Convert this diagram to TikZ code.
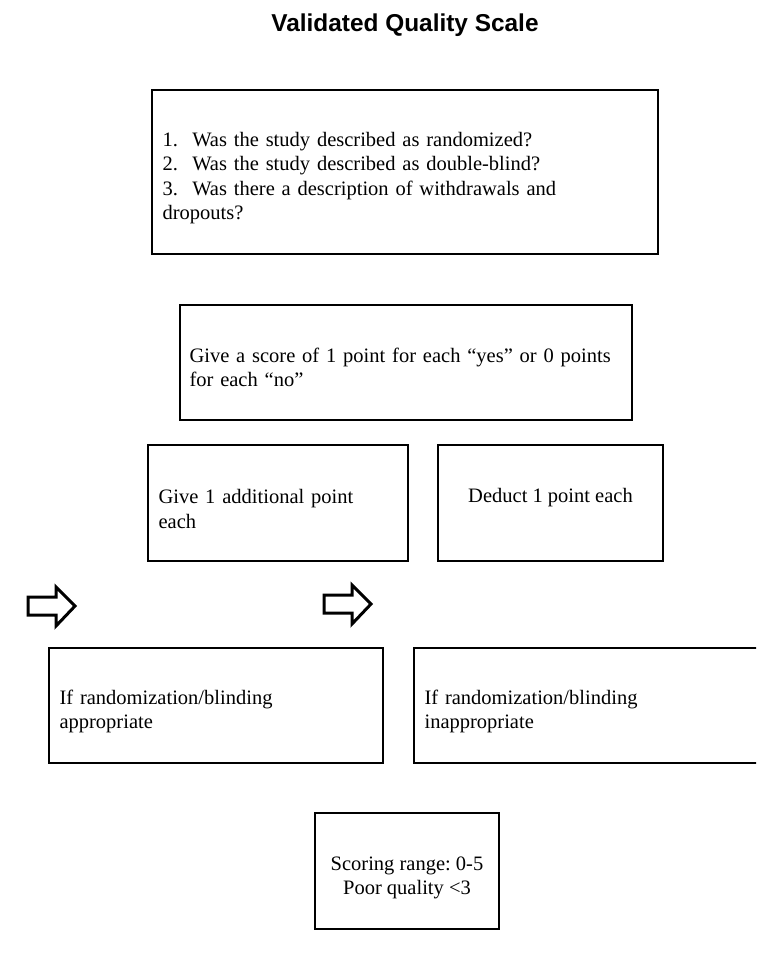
\documentclass[tikz,border=0pt]{standalone}
\usepackage{fontspec}
\setmainfont{Liberation Serif}
\newfontfamily\titlefont{Liberation Sans}
\usetikzlibrary{positioning}
\frenchspacing

\tikzset{
  qbox/.style={draw, line width=1.3pt, inner sep=0pt},
  qtext/.style={inner sep=0pt, align=left, anchor=west,
                font=\fontsize{20.5}{24.5}\selectfont},
  ctext/.style={qtext, align=center, anchor=center},
  hollow arrow/.style={draw, line width=3pt, miter limit=10}
}

\begin{document}
\begin{tikzpicture}[x=1pt, y=-1pt]

\clip (0,0) rectangle (756,962);
\fill[white] (0,0) rectangle (756,962);

%---------------------------------------
% Title
%---------------------------------------
\node[font=\titlefont\bfseries\fontsize{24.4}{28}\selectfont] (title) at (405,25)
      {Validated Quality Scale};

%---------------------------------------
% Questions and scoring
%---------------------------------------
\node[qbox, minimum width=506pt, minimum height=164pt] (questions) at (405,172) {};
\node[qtext, text width=484pt, yshift=-6pt] (questions-text)
      at ([xshift=11pt]questions.west)
      {1.\hspace{0.7em}Was the study described as randomized?\\
       2.\hspace{0.7em}Was the study described as double-blind?\\
       3.\hspace{0.7em}Was there a description of withdrawals and\\
       dropouts?};

\node[qbox, minimum width=452pt, minimum height=115pt] (score) at (406,362.5) {};
\node[qtext, text width=432pt, yshift=-5pt] (score-text)
      at ([xshift=10pt]score.west)
      {Give a score of 1 point for each ``yes'' or 0 points\\
       for each ``no''};

%---------------------------------------
% Additional / deducted points
%---------------------------------------
\node[qbox, minimum width=260pt, minimum height=116pt] (add) at (278,503) {};
\node[qtext, text width=236pt, yshift=-6pt] (add-text)
      at ([xshift=11pt]add.west)
      {Give 1 additional point\\ each};

\node[qbox, minimum width=225pt, minimum height=116pt] (deduct) at (550.5,503) {};
\node[ctext, yshift=5pt] (deduct-text) at (deduct.center)
      {Deduct 1 point each};

%---------------------------------------
% Hollow arrows
%---------------------------------------
\foreach \ax/\ay in {28/606, 324/604}{
  \draw[hollow arrow] (\ax,\ay-9) -- (\ax+28,\ay-9) -- (\ax+28,\ay-19)
        -- (\ax+47,\ay) -- (\ax+28,\ay+20) -- (\ax+28,\ay+9)
        -- (\ax,\ay+9) -- cycle;
}

%---------------------------------------
% Conditions
%---------------------------------------
\node[qbox, minimum width=334pt, minimum height=115pt] (appropriate) at (216,705.5) {};
\node[qtext, text width=312pt, yshift=-6pt] (appropriate-text)
      at ([xshift=11pt]appropriate.west)
      {If randomization/blinding\\ appropriate};

\node[qbox, minimum width=360pt, minimum height=115pt] (inappropriate) at (594,705.5) {};
\node[qtext, text width=320pt, yshift=-6pt] (inappropriate-text)
      at ([xshift=11pt]inappropriate.west)
      {If randomization/blinding\\ inappropriate};

%---------------------------------------
% Scoring range
%---------------------------------------
\node[qbox, minimum width=184pt, minimum height=116pt] (range) at (407,871) {};
\node[ctext, yshift=-7pt] (range-text) at (range.center)
      {Scoring range: 0-5\\ Poor quality\ <3};

\end{tikzpicture}
\end{document}
